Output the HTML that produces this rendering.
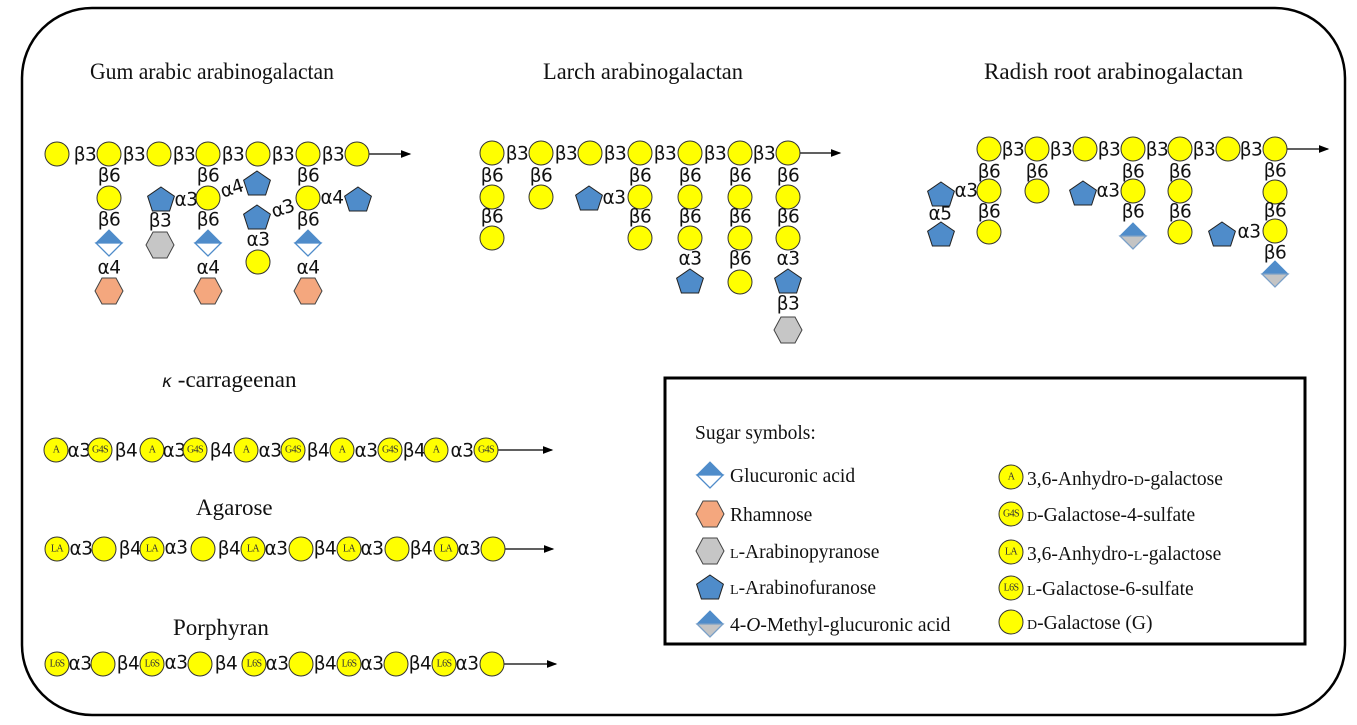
<!DOCTYPE html>
<html><head><meta charset="utf-8"><style>
html,body{margin:0;padding:0;background:#fff;}
svg{display:block;}
.l{font-family:"DejaVu Sans",sans-serif;font-size:18.5px;fill:#111;text-anchor:middle;dominant-baseline:central;letter-spacing:-0.5px;}
.t{font-family:"Liberation Serif",serif;font-size:23px;fill:#111;}
.s{font-family:"Liberation Serif",serif;font-size:10px;fill:#333;text-anchor:middle;dominant-baseline:central;letter-spacing:-0.6px;}
.g{font-family:"Liberation Serif",serif;font-size:19.5px;fill:#111;}
</style></head><body>
<svg width="1357" height="725" viewBox="0 0 1357 725" xmlns="http://www.w3.org/2000/svg">
<defs>
<g id="c"><circle r="12" fill="#ffff00" stroke="#333" stroke-width="1"/></g>
<g id="p"><polygon points="0,-13 13.4,-3.8 8.6,11 -8.6,11 -13.4,-3.8" fill="#4f8cca" stroke="#222" stroke-width="1"/></g>
<g id="h"><polygon points="-14,0 -7,-13 7,-13 14,0 7,13 -7,13" fill="#f4a77e" stroke="#444" stroke-width="1"/></g>
<g id="hg"><polygon points="-14,0 -7,-13 7,-13 14,0 7,13 -7,13" fill="#c6c6c6" stroke="#444" stroke-width="1"/></g>
<g id="d"><polygon points="-13,0 0,-13 13,0" fill="#4f8cca" stroke="#4f8cca"/><polygon points="-13,0 0,13 13,0" fill="#fff" stroke="#4f8cca" stroke-width="1.3"/></g>
<g id="dm"><polygon points="-13,0 0,-13 13,0" fill="#4f8cca" stroke="#4f8cca"/><polygon points="-13,0 0,13 13,0" fill="#c4c4c4" stroke="#7aa0c8" stroke-width="1.3"/></g>
<marker id="ar" markerWidth="8" markerHeight="6" refX="7" refY="3" orient="auto"><path d="M0,0 L8,3 L0,6z" fill="#000"/></marker>
</defs>

<rect x="22" y="8" width="1323" height="707" rx="70" ry="70" fill="none" stroke="#000" stroke-width="2.5"/>

<text class="t" x="90" y="79" textLength="244" lengthAdjust="spacingAndGlyphs">Gum arabic arabinogalactan</text>
<text class="t" x="543" y="79" textLength="200" lengthAdjust="spacingAndGlyphs">Larch arabinogalactan</text>
<text class="t" x="984" y="79" textLength="259" lengthAdjust="spacingAndGlyphs">Radish root arabinogalactan</text>

<!-- Gum arabic -->
<line x1="369" y1="154" x2="410" y2="154" stroke="#000" stroke-width="1.3" marker-end="url(#ar)"/>
<use href="#c" x="57" y="154"/><use href="#c" x="109" y="154"/><use href="#c" x="159" y="154"/><use href="#c" x="208" y="154"/><use href="#c" x="258" y="154"/><use href="#c" x="308" y="154"/><use href="#c" x="357" y="154"/>
<text class="l" x="85" y="155">β3</text><text class="l" x="134" y="155">β3</text><text class="l" x="184" y="155">β3</text><text class="l" x="233" y="155">β3</text><text class="l" x="283" y="155">β3</text><text class="l" x="333" y="155">β3</text>
<text class="l" x="109" y="176">β6</text><use href="#c" x="109" y="198"/><text class="l" x="109" y="220">β6</text><use href="#d" x="109" y="243"/><text class="l" x="109" y="268">α4</text><use href="#h" x="109" y="291"/>
<use href="#p" x="161" y="200"/><text class="l" x="186" y="200">α3</text><text class="l" x="160" y="221">β3</text><use href="#hg" x="160" y="245"/>
<text class="l" x="208" y="176">β6</text><use href="#c" x="208" y="198"/><text class="l" x="208" y="220">β6</text><use href="#d" x="208" y="243"/><text class="l" x="208" y="268">α4</text><use href="#h" x="208" y="291"/>
<text class="l" x="232" y="189" transform="rotate(-18 232 189)">α4</text><use href="#p" x="257" y="184"/>
<use href="#p" x="257" y="218"/><text class="l" x="283" y="209" transform="rotate(-18 283 209)">α3</text><text class="l" x="258" y="240">α3</text><use href="#c" x="258" y="262"/>
<text class="l" x="308" y="176">β6</text><use href="#c" x="308" y="198"/><text class="l" x="332" y="198">α4</text><use href="#p" x="358" y="200"/><text class="l" x="308" y="220">β6</text><use href="#d" x="308" y="243"/><text class="l" x="308" y="268">α4</text><use href="#h" x="308" y="291"/>

<!-- Larch -->
<line x1="800" y1="153" x2="840" y2="153" stroke="#000" stroke-width="1.3" marker-end="url(#ar)"/>
<use href="#c" x="492" y="153"/><use href="#c" x="541" y="153"/><use href="#c" x="590" y="153"/><use href="#c" x="640" y="153"/><use href="#c" x="690" y="153"/><use href="#c" x="740" y="153"/><use href="#c" x="788" y="153"/>
<text class="l" x="517" y="154">β3</text><text class="l" x="566" y="154">β3</text><text class="l" x="615" y="154">β3</text><text class="l" x="665" y="154">β3</text><text class="l" x="715" y="154">β3</text><text class="l" x="764" y="154">β3</text>
<text class="l" x="492" y="176">β6</text><use href="#c" x="492" y="197"/><text class="l" x="492" y="217">β6</text><use href="#c" x="492" y="238"/>
<text class="l" x="541" y="176">β6</text><use href="#c" x="541" y="197"/>
<use href="#p" x="589" y="199"/><text class="l" x="614" y="198">α3</text>
<text class="l" x="640" y="176">β6</text><use href="#c" x="640" y="197"/><text class="l" x="640" y="217">β6</text><use href="#c" x="640" y="238"/>
<text class="l" x="690" y="176">β6</text><use href="#c" x="690" y="197"/><text class="l" x="690" y="217">β6</text><use href="#c" x="690" y="238"/><text class="l" x="690" y="259">α3</text><use href="#p" x="690" y="282"/>
<text class="l" x="740" y="176">β6</text><use href="#c" x="740" y="197"/><text class="l" x="740" y="217">β6</text><use href="#c" x="740" y="238"/><text class="l" x="740" y="259">β6</text><use href="#c" x="740" y="282"/>
<text class="l" x="788" y="176">β6</text><use href="#c" x="788" y="197"/><text class="l" x="788" y="217">β6</text><use href="#c" x="788" y="238"/><text class="l" x="788" y="259">α3</text><use href="#p" x="788" y="282"/><text class="l" x="788" y="304">β3</text><use href="#hg" x="788" y="330"/>

<!-- Radish -->
<line x1="1287" y1="149" x2="1328" y2="149" stroke="#000" stroke-width="1.3" marker-end="url(#ar)"/>
<use href="#c" x="989" y="149"/><use href="#c" x="1037" y="149"/><use href="#c" x="1085" y="149"/><use href="#c" x="1133" y="149"/><use href="#c" x="1180" y="149"/><use href="#c" x="1228" y="149"/><use href="#c" x="1275" y="149"/>
<text class="l" x="1013" y="150">β3</text><text class="l" x="1061" y="150">β3</text><text class="l" x="1109" y="150">β3</text><text class="l" x="1157" y="150">β3</text><text class="l" x="1204" y="150">β3</text><text class="l" x="1251" y="150">β3</text>
<text class="l" x="989" y="172">β6</text><use href="#c" x="989" y="191"/><text class="l" x="989" y="212">β6</text><use href="#c" x="989" y="232"/>
<use href="#p" x="941" y="195"/><text class="l" x="966" y="191">α3</text><text class="l" x="940" y="214">α5</text><use href="#p" x="941" y="235"/>
<text class="l" x="1037" y="172">β6</text><use href="#c" x="1037" y="191"/>
<use href="#p" x="1083" y="194"/><text class="l" x="1108" y="191">α3</text>
<text class="l" x="1133" y="172">β6</text><use href="#c" x="1133" y="191"/><text class="l" x="1133" y="212">β6</text><use href="#dm" x="1133" y="236"/>
<text class="l" x="1180" y="172">β6</text><use href="#c" x="1180" y="191"/><text class="l" x="1180" y="212">β6</text><use href="#c" x="1180" y="232"/>
<use href="#p" x="1222" y="235"/><text class="l" x="1249" y="232">α3</text>
<text class="l" x="1275" y="171">β6</text><use href="#c" x="1275" y="192"/><text class="l" x="1275" y="211">β6</text><use href="#c" x="1275" y="231"/><text class="l" x="1275" y="253">β6</text><use href="#dm" x="1275" y="274"/>

<!-- kappa carrageenan -->
<text class="t" x="162" y="387" font-size="21"><tspan font-family="DejaVu Sans" font-style="italic" font-size="17">κ</tspan> -carrageenan</text>
<line x1="497" y1="450" x2="552" y2="450" stroke="#000" stroke-width="1.3" marker-end="url(#ar)"/>
<use href="#c" x="56" y="450"/><text class="s" x="56" y="450">A</text>
<text class="l" x="79" y="451">α3</text>
<use href="#c" x="100" y="450"/><text class="s" x="100" y="450">G4S</text>
<text class="l" x="126" y="451">β4</text>
<use href="#c" x="152" y="450"/><text class="s" x="152" y="450">A</text>
<text class="l" x="174" y="451">α3</text>
<use href="#c" x="195" y="450"/><text class="s" x="195" y="450">G4S</text>
<text class="l" x="221" y="451">β4</text>
<use href="#c" x="246" y="450"/><text class="s" x="246" y="450">A</text>
<text class="l" x="270" y="451">α3</text>
<use href="#c" x="293" y="450"/><text class="s" x="293" y="450">G4S</text>
<text class="l" x="318" y="451">β4</text>
<use href="#c" x="342" y="450"/><text class="s" x="342" y="450">A</text>
<text class="l" x="366" y="451">α3</text>
<use href="#c" x="390" y="450"/><text class="s" x="390" y="450">G4S</text>
<text class="l" x="414" y="451">β4</text>
<use href="#c" x="436" y="450"/><text class="s" x="436" y="450">A</text>
<text class="l" x="462" y="451">α3</text>
<use href="#c" x="486" y="450"/><text class="s" x="486" y="450">G4S</text>

<!-- Agarose -->
<text class="t" x="196" y="515" font-size="21">Agarose</text>
<line x1="503" y1="549" x2="553" y2="549" stroke="#000" stroke-width="1.3" marker-end="url(#ar)"/>
<use href="#c" x="57" y="549"/><text class="s" x="57" y="549">LA</text>
<text class="l" x="81" y="549">α3</text><use href="#c" x="104" y="549"/>
<text class="l" x="130" y="549">β4</text>
<use href="#c" x="152" y="549"/><text class="s" x="152" y="549">LA</text>
<text class="l" x="176" y="548">α3</text><use href="#c" x="203" y="549"/>
<text class="l" x="229" y="549">β4</text>
<use href="#c" x="253" y="549"/><text class="s" x="253" y="549">LA</text>
<text class="l" x="276" y="549">α3</text><use href="#c" x="301" y="549"/>
<text class="l" x="325" y="549">β4</text>
<use href="#c" x="349" y="549"/><text class="s" x="349" y="549">LA</text>
<text class="l" x="372" y="549">α3</text><use href="#c" x="397" y="549"/>
<text class="l" x="421" y="549">β4</text>
<use href="#c" x="446" y="549"/><text class="s" x="446" y="549">LA</text>
<text class="l" x="469" y="549">α3</text><use href="#c" x="493" y="549"/>

<!-- Porphyran -->
<text class="t" x="173" y="635" font-size="21">Porphyran</text>
<line x1="504" y1="664" x2="556" y2="664" stroke="#000" stroke-width="1.3" marker-end="url(#ar)"/>
<use href="#c" x="57" y="664"/><text class="s" x="57" y="664">L6S</text>
<text class="l" x="80" y="664">α3</text><use href="#c" x="103" y="664"/>
<text class="l" x="128" y="664">β4</text>
<use href="#c" x="152" y="664"/><text class="s" x="152" y="664">L6S</text>
<text class="l" x="176" y="663">α3</text><use href="#c" x="200" y="664"/>
<text class="l" x="226" y="664">β4</text>
<use href="#c" x="254" y="664"/><text class="s" x="254" y="664">L6S</text>
<text class="l" x="277" y="664">α3</text><use href="#c" x="301" y="664"/>
<text class="l" x="325" y="664">β4</text>
<use href="#c" x="349" y="664"/><text class="s" x="349" y="664">L6S</text>
<text class="l" x="372" y="664">α3</text><use href="#c" x="396" y="664"/>
<text class="l" x="420" y="664">β4</text>
<use href="#c" x="444" y="664"/><text class="s" x="444" y="664">L6S</text>
<text class="l" x="467" y="664">α3</text><use href="#c" x="492" y="664"/>

<!-- Legend -->
<rect x="665" y="378" width="640" height="266" fill="#fff" stroke="#000" stroke-width="3"/>
<text class="g" x="695" y="439" font-size="20.5">Sugar symbols:</text>
<use href="#d" x="710" y="475"/><text class="g" x="730" y="482">Glucuronic acid</text>
<use href="#h" x="710" y="514"/><text class="g" x="730" y="521">Rhamnose</text>
<use href="#hg" x="710" y="551"/><text class="g" x="730" y="558"><tspan font-size="14">L</tspan>-Arabinopyranose</text>
<use href="#p" x="710" y="588"/><text class="g" x="730" y="594"><tspan font-size="14">L</tspan>-Arabinofuranose</text>
<use href="#dm" x="710" y="624"/><text class="g" x="730" y="631">4-<tspan font-style="italic">O</tspan>-Methyl-glucuronic acid</text>
<use href="#c" x="1011" y="477"/><text class="s" x="1011" y="477">A</text><text class="g" x="1027" y="485">3,6-Anhydro-<tspan font-size="14">D</tspan>-galactose</text>
<use href="#c" x="1011" y="514"/><text class="s" x="1011" y="514">G4S</text><text class="g" x="1027" y="521"><tspan font-size="14">D</tspan>-Galactose-4-sulfate</text>
<use href="#c" x="1011" y="552"/><text class="s" x="1011" y="552">LA</text><text class="g" x="1027" y="560">3,6-Anhydro-<tspan font-size="14">L</tspan>-galactose</text>
<use href="#c" x="1011" y="588"/><text class="s" x="1011" y="588">L6S</text><text class="g" x="1027" y="595"><tspan font-size="14">L</tspan>-Galactose-6-sulfate</text>
<use href="#c" x="1011" y="622"/><text class="g" x="1027" y="629"><tspan font-size="14">D</tspan>-Galactose (G)</text>
</svg>
</body></html>
